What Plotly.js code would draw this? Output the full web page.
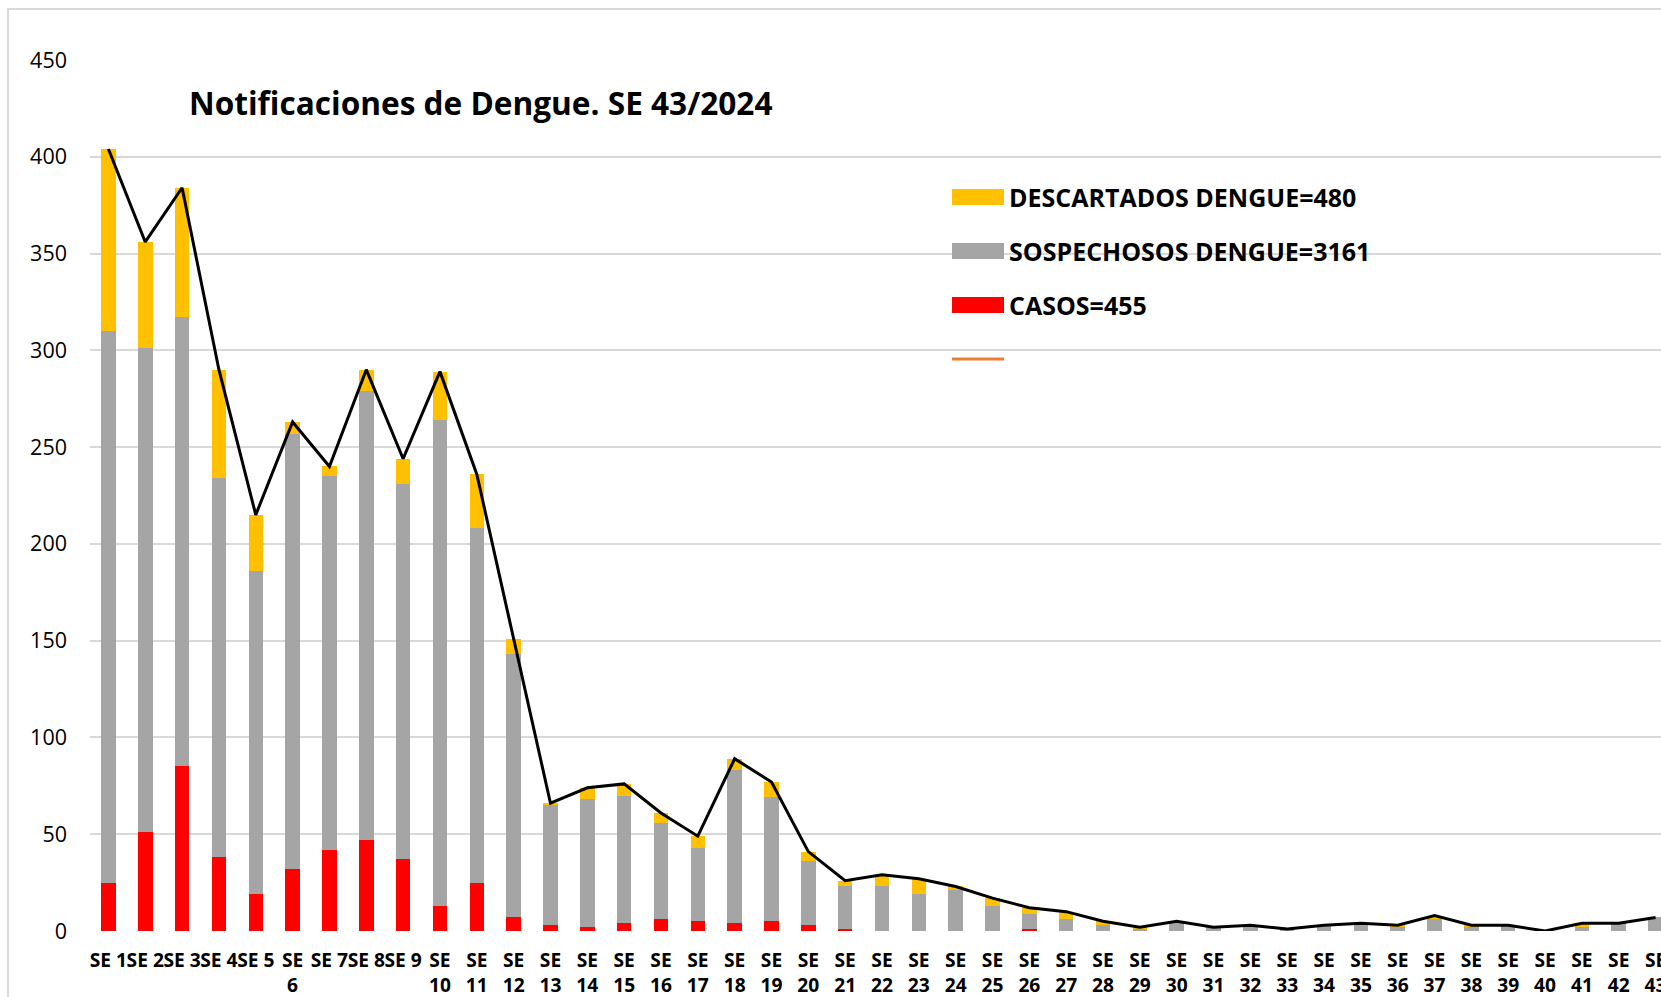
<!DOCTYPE html>
<html>
<head>
<meta charset="utf-8">
<script src="https://cdn.plot.ly/plotly-3.0.1.min.js"></script>
<style>
  html, body { margin: 0; padding: 0; overflow: hidden; background: #fff; width: 1661px; height: 997px; }
  #frame { position: absolute; left: 7px; top: 8px; width: 1720px; height: 1100px; border: 2px solid #d9d9d9; box-sizing: border-box; }
  #chart { position: absolute; left: 0; top: 0; width: 1700px; height: 1000px; }
</style>
</head>
<body>
<div id="frame"></div>
<div id="chart"></div>
<script>
const weeks = ["SE 1","SE 2","SE 3","SE 4","SE 5","SE 6","SE 7","SE 8","SE 9","SE 10",
  "SE 11","SE 12","SE 13","SE 14","SE 15","SE 16","SE 17","SE 18","SE 19","SE 20",
  "SE 21","SE 22","SE 23","SE 24","SE 25","SE 26","SE 27","SE 28","SE 29","SE 30",
  "SE 31","SE 32","SE 33","SE 34","SE 35","SE 36","SE 37","SE 38","SE 39","SE 40",
  "SE 41","SE 42","SE 43"];
const tickText = ["SE 1","SE 2","SE 3","SE 4","SE 5","SE<br>6","SE 7","SE 8","SE 9","SE<br>10",
  "SE<br>11","SE<br>12","SE<br>13","SE<br>14","SE<br>15","SE<br>16","SE<br>17","SE<br>18","SE<br>19","SE<br>20",
  "SE<br>21","SE<br>22","SE<br>23","SE<br>24","SE<br>25","SE<br>26","SE<br>27","SE<br>28","SE<br>29","SE<br>30",
  "SE<br>31","SE<br>32","SE<br>33","SE<br>34","SE<br>35","SE<br>36","SE<br>37","SE<br>38","SE<br>39","SE<br>40",
  "SE<br>41","SE<br>42","SE<br>43"];
const casos = [25,51,85,38,19,32,42,47,37,13,25,7,3,2,4,6,5,4,5,3,1,0,0,0,0,1,0,0,0,0,0,0,0,0,0,0,0,0,0,0,0,0,0];
const sospechosos = [285,250,232,196,167,225,193,232,194,251,183,136,62,66,66,50,38,79,64,33,22,23,19,21,13,8,6,3,1,5,2,2,1,3,4,2,6,2,3,0,2,4,7];
const descartados = [94,55,67,56,29,6,5,11,13,25,28,8,1,6,6,5,6,6,8,5,3,6,8,2,4,3,4,2,1,0,0,1,0,0,0,1,2,1,0,0,2,0,0];
const total = [404,356,384,290,215,263,240,290,244,289,236,151,66,74,76,61,49,89,77,41,26,29,27,23,17,12,10,5,2,5,2,3,1,3,4,3,8,3,3,0,4,4,7];

const legendLabels = ["DESCARTADOS DENGUE=480","SOSPECHOSOS DENGUE=3161","CASOS=455",""];
const titleText = "Notificaciones de Dengue. SE 43/2024";

const FONT = "'Open Sans', sans-serif";
const C_YEL = "#FFC000", C_GRY = "#A5A5A5", C_RED = "#FF0000", C_ORG = "#ED7D31";

const traces = [
  {type: "bar", name: legendLabels[2], x: weeks, y: casos, marker: {color: C_RED}},
  {type: "bar", name: legendLabels[1], x: weeks, y: sospechosos, marker: {color: C_GRY}},
  {type: "bar", name: legendLabels[0], x: weeks, y: descartados, marker: {color: C_YEL}},
  {type: "scatter", mode: "lines", name: "Total", x: weeks, y: total, line: {color: "#000000", width: 3}}
];

// plot area: left 90, right 1674, top 60, bottom 931 (page px)
const L = 90, R = 1674, T = 60, B = 931, W = 1700, H = 1000;
const PW = R - L, PH = B - T;
const px = v => (v - L) / PW;
const py = v => (B - v) / PH;

const legendColors = [C_YEL, C_GRY, C_RED];
const legendY = [197, 251, 305];
const shapes = [];
const annotations = [];
legendColors.forEach((c, i) => {
  shapes.push({type: "rect", xref: "paper", yref: "paper",
    x0: px(952), x1: px(1004), y0: py(legendY[i] + 8), y1: py(legendY[i] - 8),
    fillcolor: c, line: {width: 0}});
  annotations.push({xref: "paper", yref: "paper", x: px(1007), y: py(legendY[i]),
    xanchor: "left", yanchor: "middle", showarrow: false, text: legendLabels[i],
    font: {family: FONT, size: 25, color: "#000", weight: 700}});
});
shapes.push({type: "line", xref: "paper", yref: "paper",
  x0: px(952), x1: px(1004), y0: py(359), y1: py(359), line: {color: C_ORG, width: 3}});

const layout = {
  width: W, height: H,
  margin: {l: L, r: W - R, t: T, b: H - B, pad: 0},
  paper_bgcolor: "rgba(0,0,0,0)", plot_bgcolor: "rgba(0,0,0,0)",
  barmode: "stack", bargap: 0.606,
  showlegend: false,
  title: {text: titleText, xref: "paper", yref: "paper",
    x: px(189), y: py(104), xanchor: "left", yanchor: "middle",
    font: {family: FONT, size: 31.6, color: "#000", weight: 700}},
  xaxis: {type: "category", tickvals: weeks, ticktext: tickText, ticks: "",
    showline: false, showgrid: false, zeroline: false, tickangle: 0,
    ticklabelstandoff: 16,
    tickfont: {family: FONT, size: 19.2, color: "#000", weight: 700}},
  yaxis: {range: [0, 450], dtick: 50, tick0: 0, showgrid: true, gridcolor: "#d9d9d9", gridwidth: 2,
    zeroline: false, showline: false, ticks: "", ticklabelstandoff: 22,
    tickfont: {family: FONT, size: 21.5, color: "#000"}},
  shapes: shapes,
  annotations: annotations
};

Plotly.newPlot("chart", traces, layout, {displayModeBar: false, staticPlot: true});
</script>
</body>
</html>
